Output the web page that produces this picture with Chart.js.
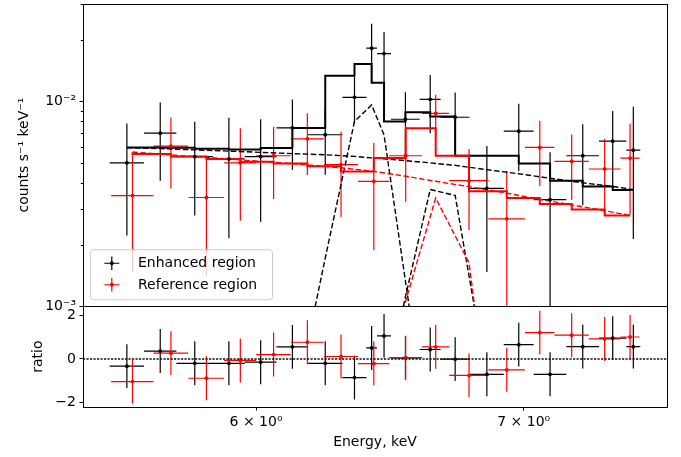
<!DOCTYPE html>
<html>
<head>
<meta charset="utf-8">
<script src="https://cdn.jsdelivr.net/npm/chart.js@4.4.1/dist/chart.umd.min.js"></script>
<style>
  html, body { margin: 0; padding: 0; background: #fff; }
</style>
</head>
<body>
<canvas id="chartCanvas" width="681" height="457"></canvas>
<script>
// Enhanced region (black): bin centres, half widths, rate, error, model, components
const blackE = [5.570, 5.678, 5.792, 5.907, 6.016, 6.127, 6.244, 6.350, 6.413, 6.459, 6.539, 6.633, 6.729, 6.853, 6.980, 7.107, 7.242, 7.368, 7.456];
const blackDE = [0.055, 0.053, 0.061, 0.054, 0.055, 0.056, 0.062, 0.044, 0.020, 0.026, 0.054, 0.040, 0.056, 0.067, 0.060, 0.067, 0.068, 0.058, 0.030];
const blackRate = [5.02e-3, 7.01e-3, 5.38e-3, 5.25e-3, 5.39e-3, 7.45e-3, 6.89e-3, 1.05e-2, 1.825e-2, 1.718e-2, 8.20e-3, 1.026e-2, 8.39e-3, 3.77e-3, 7.17e-3, 3.32e-3, 5.44e-3, 6.41e-3, 5.79e-3];
const blackErr = [2.8e-3, 2.9e-3, 2.6e-3, 3.1e-3, 2.8e-3, 2.8e-3, 2.5e-3, 2.7e-3, 5.8e-3, 4.7e-3, 2.9e-3, 3.25e-3, 2.7e-3, 2.3e-3, 2.6e-3, 2.33e-3, 2.32e-3, 2.6e-3, 3.66e-3];
const blackModel = [5.97e-3, 5.97e-3, 5.95e-3, 5.89e-3, 5.84e-3, 5.93e-3, 7.43e-3, 1.338e-2, 1.526e-2, 1.238e-2, 7.99e-3, 8.87e-3, 8.45e-3, 5.44e-3, 5.44e-3, 4.99e-3, 4.11e-3, 3.85e-3, 3.70e-3];
const blackCont = [5.95e-3, 5.89e-3, 5.81e-3, 5.73e-3, 5.65e-3, 5.57e-3, 5.50e-3, 5.40e-3, 5.31e-3, 5.25e-3, 5.15e-3, 5.02e-3, 4.88e-3, 4.65e-3, 4.44e-3, 4.22e-3, 4.01e-3, 3.85e-3, 3.72e-3];
const blackLine1 = [null, null, null, null, null, 2.9e-4, 1.72e-3, 8.0e-3, 9.64e-3, 6.87e-3, 1.33e-3, 2.0e-4, null, null, null, null, null, null, null];
const blackLine2 = [null, null, null, null, null, null, null, null, null, 3.8e-4, 1.11e-3, 3.72e-3, 3.48e-3, 4.4e-4, null, null, null, null, null];
const blackRes = [-0.33, 0.36, -0.20, -0.20, -0.15, 0.55, -0.20, -0.85, 0.50, 1.05, 0.05, 0.43, -0.01, -0.70, 0.65, -0.70, 0.56, 0.95, 0.56];

// Reference region (red)
const redE = [5.588, 5.713, 5.831, 5.946, 6.061, 6.180, 6.301, 6.421, 6.540, 6.654, 6.783, 6.932, 7.065, 7.196, 7.334, 7.442];
const redDE = [0.068, 0.057, 0.060, 0.055, 0.060, 0.059, 0.062, 0.058, 0.062, 0.052, 0.077, 0.073, 0.060, 0.071, 0.067, 0.041];
const redRate = [3.475e-3, 6.06e-3, 3.40e-3, 5.02e-3, 5.44e-3, 6.58e-3, 4.92e-3, 4.08e-3, 5.44e-3, 8.77e-3, 4.11e-3, 2.675e-3, 5.97e-3, 5.11e-3, 4.685e-3, 5.30e-3];
const redErr = [2.0e-3, 2.3e-3, 2.0e-3, 2.4e-3, 2.1e-3, 2.2e-3, 2.2e-3, 2.2e-3, 2.2e-3, 2.05e-3, 1.75e-3, 1.9e-3, 2.1e-3, 1.8e-3, 1.9e-3, 2.5e-3];
const redModel = [5.65e-3, 5.55e-3, 5.40e-3, 5.25e-3, 5.08e-3, 4.99e-3, 4.83e-3, 4.56e-3, 5.30e-3, 7.41e-3, 5.44e-3, 3.65e-3, 3.38e-3, 3.16e-3, 2.97e-3, 2.78e-3];
const redCont = [5.67e-3, 5.49e-3, 5.34e-3, 5.19e-3, 5.05e-3, 4.91e-3, 4.75e-3, 4.56e-3, 4.32e-3, 4.08e-3, 3.84e-3, 3.57e-3, 3.33e-3, 3.13e-3, 2.93e-3, 2.78e-3];
const redLine2 = [null, null, null, null, null, null, null, 3.1e-4, 1.06e-3, 3.38e-3, 1.63e-3, 6e-5, null, null, null, null];
const redRes = [-1.03, 0.26, -0.88, -0.07, 0.20, 0.76, 0.11, -0.21, 0.06, 0.55, -0.75, -0.50, 1.20, 1.08, 0.91, 1.00];
const resErr = 1;

// ticks
const xTickVals = [6, 7];
const xTickLabels = ['6 × 10⁰', '7 × 10⁰'];
const yTickVals = [0.001, 0.002, 0.003, 0.004, 0.005, 0.006, 0.007, 0.008, 0.009, 0.01, 0.02, 0.03];
const yMajorVals = [0.001, 0.01];
const yMajorText = ['10⁻³', '10⁻²'];
const resTickVals = [-2, 0, 2];
const resTickText = ['−2', '0', '2'];

const legendLabels = ['Enhanced region', 'Reference region'];
const legendColors = ['#000000', '#ff0000'];

const BLACK = '#000000';
const RED = '#ff0000';

Chart.defaults.font.family = '"DejaVu Sans"';
Chart.defaults.font.size = 14;
Chart.defaults.color = '#000';

function pairs(xs, ys) {
  return xs.map((x, i) => ({ x: x, y: ys[i] }));
}

// error bars as line segments separated by gaps
function errorBars(xs, dx, ys, dy) {
  const pts = [];
  xs.forEach((x, i) => {
    const e = Array.isArray(dy) ? dy[i] : dy;
    pts.push({ x: x - dx[i], y: ys[i] }, { x: x + dx[i], y: ys[i] }, { x: x, y: null });
    pts.push({ x: x, y: ys[i] - e }, { x: x, y: ys[i] + e }, { x: x, y: null });
  });
  return pts;
}

function markers(xs, ys, color, axis) {
  return { data: pairs(xs, ys), yAxisID: axis, showLine: false, pointRadius: 1.9, pointBorderWidth: 0,
    pointBackgroundColor: color, order: 0 };
}
function bars(xs, dx, ys, dy, color, axis) {
  return { data: errorBars(xs, dx, ys, dy), yAxisID: axis, borderColor: color, borderWidth: 1.2,
    pointRadius: 0, spanGaps: false, order: 2 };
}
function modelLine(xs, ys, color, dashed) {
  return { data: pairs(xs, ys), yAxisID: 'y', borderColor: color, borderWidth: dashed ? 1.4 : 2,
    borderDash: dashed ? [5.5, 2.5] : [], stepped: dashed ? false : 'after', pointRadius: 0,
    spanGaps: false, order: 1 };
}

function yTickText(v) {
  const i = yMajorVals.findIndex(m => Math.abs(m - v) < 1e-9);
  return i >= 0 ? yMajorText[i] : '';
}

const panelPlugin = {
  id: 'panelPlugin',
  afterDatasetsDraw(chart) {
    const { ctx, scales } = chart;
    const x = scales.x, y = scales.y, yr = scales.yr;
    ctx.save();

    // dotted zero line
    const y0 = yr.getPixelForValue(0);
    ctx.strokeStyle = '#111';
    ctx.lineWidth = 1.5;
    ctx.setLineDash([2.2, 1.3]);
    ctx.beginPath();
    ctx.moveTo(x.left, y0);
    ctx.lineTo(x.right, y0);
    ctx.stroke();
    ctx.setLineDash([]);

    // legend
    const lx = x.left + 7.5, lh = 50, lw = 182, ly = y.bottom - 6.5 - lh;
    ctx.beginPath();
    if (ctx.roundRect) ctx.roundRect(lx, ly, lw, lh, 3); else ctx.rect(lx, ly, lw, lh);
    ctx.fillStyle = 'rgba(255,255,255,0.8)';
    ctx.fill();
    ctx.strokeStyle = '#cccccc';
    ctx.lineWidth = 1;
    ctx.stroke();
    ctx.font = '14px "DejaVu Sans"';
    ctx.textBaseline = 'middle';
    legendLabels.forEach((label, i) => {
      const cy = ly + 13.5 + i * 21.5;
      const cx = lx + 21.3;
      ctx.strokeStyle = legendColors[i];
      ctx.fillStyle = legendColors[i];
      ctx.lineWidth = 1.2;
      ctx.beginPath();
      ctx.moveTo(cx - 7.5, cy); ctx.lineTo(cx + 7.5, cy);
      ctx.moveTo(cx, cy - 6.7); ctx.lineTo(cx, cy + 6.7);
      ctx.stroke();
      ctx.beginPath();
      ctx.arc(cx, cy, 1.9, 0, Math.PI * 2);
      ctx.fill();
      ctx.fillStyle = '#000';
      ctx.fillText(label, lx + 47.5, cy + 0.5);
    });

    // minor ticks on the log axis
    ctx.strokeStyle = '#000';
    ctx.lineWidth = 1;
    yTickVals.forEach(v => {
      if (yTickText(v) !== '') return;
      const py = Math.round(y.getPixelForValue(v)) + 0.5;
      ctx.beginPath();
      ctx.moveTo(x.left - 2.2, py);
      ctx.lineTo(x.left, py);
      ctx.stroke();
    });

    // panel frames
    [y, yr].forEach(s => {
      ctx.strokeRect(Math.round(x.left) + 0.5, Math.round(s.top) + 0.5,
        Math.round(x.right - x.left), Math.round(s.bottom - s.top));
    });
    ctx.restore();
  }
};

const tickGrid = { display: true, drawOnChartArea: false, drawTicks: true, tickLength: 3.5, tickColor: '#000', tickWidth: 1 };

const config = {
  type: 'line',
  data: {
    datasets: [
      markers(redE, redRate, RED, 'y'),
      markers(blackE, blackRate, BLACK, 'y'),
      markers(redE, redRes, RED, 'yr'),
      markers(blackE, blackRes, BLACK, 'yr'),
      modelLine(redE, redModel, RED, false),
      modelLine(redE, redCont, RED, true),
      modelLine(redE, redLine2, RED, true),
      modelLine(blackE, blackModel, BLACK, false),
      modelLine(blackE, blackCont, BLACK, true),
      modelLine(blackE, blackLine1, BLACK, true),
      modelLine(blackE, blackLine2, BLACK, true),
      bars(redE, redDE, redRate, redErr, RED, 'y'),
      bars(blackE, blackDE, blackRate, blackErr, BLACK, 'y'),
      bars(redE, redDE, redRes, resErr, RED, 'yr'),
      bars(blackE, blackDE, blackRes, resErr, BLACK, 'yr'),
    ],
  },
  options: {
    responsive: false,
    animation: false,
    devicePixelRatio: 1,
    events: [],
    layout: { padding: { top: 2, right: 14, bottom: 0, left: 0 } },
    plugins: { legend: { display: false }, tooltip: { enabled: false } },
    scales: {
      x: {
        type: 'logarithmic', min: 5.431, max: 7.602, bounds: 'data',
        afterBuildTicks: s => { s.ticks = xTickVals.map(v => ({ value: v })); },
        afterFit: s => { s.height = 50; s.paddingLeft = 0; s.paddingRight = 0; },
        ticks: { autoSkip: false, maxRotation: 0, padding: 3, callback: (v, i) => xTickLabels[i] },
        grid: tickGrid,
        border: { display: false },
        title: { display: true, text: 'Energy, keV', padding: { top: 0, bottom: 6 } },
      },
      y: {
        type: 'logarithmic', min: 1e-3, max: 3e-2, bounds: 'data', clip: true,
        position: 'left', stack: 'panels', stackWeight: 3, weight: 2,
        afterBuildTicks: s => { s.ticks = yTickVals.map(v => ({ value: v })); },
        afterFit: s => { s.width = 83; s.paddingTop = 0; s.paddingBottom = 0; },
        ticks: { autoSkip: false, padding: 3.5, callback: v => yTickText(v) },
        grid: Object.assign({}, tickGrid, {
          tickColor: c => (c.tick && yTickText(c.tick.value) === '' ? 'rgba(0,0,0,0)' : '#000'),
        }),
        border: { display: false },
        title: { display: true, text: 'counts s⁻¹ keV⁻¹', padding: { top: 16, bottom: 0 } },
      },
      yr: {
        type: 'linear', min: -2.19, max: 2.40, bounds: 'data', clip: true,
        position: 'left', stack: 'panels', stackWeight: 1, weight: 1,
        afterBuildTicks: s => { s.ticks = resTickVals.map(v => ({ value: v })); },
        afterFit: s => { s.width = 83; s.paddingTop = 0; s.paddingBottom = 0; },
        ticks: { autoSkip: false, padding: 3.5, callback: (v, i) => resTickText[i] },
        grid: tickGrid,
        border: { display: false },
        title: { display: true, text: 'ratio', padding: { top: 30, bottom: 0 } },
      },
    },
  },
  plugins: [panelPlugin],
};

new Chart(document.getElementById('chartCanvas'), config);
</script>
</body>
</html>
